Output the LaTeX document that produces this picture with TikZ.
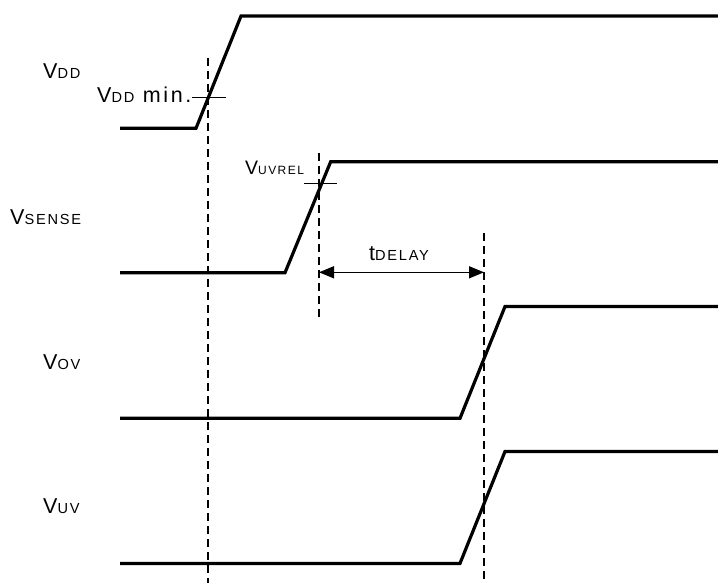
\documentclass[tikz,border=0pt]{standalone}
\usepackage{fontspec}
\setmainfont{Liberation Sans}[LetterSpace=12]
\usetikzlibrary{arrows.meta}
\newcommand{\mainsz}{\fontsize{21.5}{21.5}\selectfont}
\newcommand{\subsz}[1]{{\fontsize{14.6}{14.6}\selectfont #1}}
\tikzset{
  wave/.style={line width=3.2pt, line join=miter},
  guide/.style={line width=1.7pt, dash pattern=on 8pt off 5pt},
  tick/.style={line width=1.2pt},
  lbl/.style={inner sep=0pt, anchor=base west, font=\mainsz},
  dim/.style={line width=1.5pt, {Triangle[length=15pt,width=12pt]}-{Triangle[length=15pt,width=12pt]}}
}
\begin{document}
\begin{tikzpicture}[x=1pt,y=-1pt]
\useasboundingbox (0,0) rectangle (718,583);
% waveform coordinates
\coordinate (dd0) at (120,128.3);
\coordinate (dd1) at (196,128.3);
\coordinate (dd2) at (241,16);
\coordinate (dd3) at (718,16);
\coordinate (se0) at (120,272.7);
\coordinate (se1) at (285,272.7);
\coordinate (se2) at (330.7,161.7);
\coordinate (se3) at (718,161.7);
\coordinate (ov0) at (120,418.3);
\coordinate (ov1) at (460,418.3);
\coordinate (ov2) at (505,306.5);
\coordinate (ov3) at (718,306.5);
\coordinate (uv0) at (120,563.4);
\coordinate (uv1) at (460,563.4);
\coordinate (uv2) at (505,451.5);
\coordinate (uv3) at (718,451.5);
% guides
\coordinate (ga0) at (207.7,58);
\coordinate (ga1) at (207.7,583);
\coordinate (gb0) at (319,153);
\coordinate (gb1) at (319,318);
\coordinate (gc0) at (484,233);
\coordinate (gc1) at (484,580);
% ticks
\coordinate (ta0) at (192.3,97.3);
\coordinate (ta1) at (225.7,97.3);
\coordinate (tb0) at (304,183.3);
\coordinate (tb1) at (337.3,183.3);
% dimension
\coordinate (da) at (319,272.3);
\coordinate (db) at (484,272.3);

\draw[wave] (dd0) -- (dd1) -- (dd2) -- (dd3);
\draw[wave] (se0) -- (se1) -- (se2) -- (se3);
\draw[wave] (ov0) -- (ov1) -- (ov2) -- (ov3);
\draw[wave] (uv0) -- (uv1) -- (uv2) -- (uv3);

\draw[guide] (ga0) -- (ga1);
\draw[guide] (gb0) -- (gb1);
\draw[guide] (gc0) -- (gc1);

\draw[tick] (ta0) -- (ta1);
\draw[tick] (tb0) -- (tb1);

\draw[dim] (da) -- (db);

\node[lbl] (lvdd) at (43,78.3) {V\subsz{DD}};
\node[lbl] (lvddmin) at (97,102.7) {V\subsz{DD} min.};
\node[lbl] (lsense) at (10,225) {V\subsz{SENSE}};
\node[lbl, font=\fontsize{19.5}{19.5}\selectfont] (luvrel) at (245,175) {V{\fontsize{12}{12}\selectfont UVREL}};
\node[lbl] (ldelay) at (369,260.7) {t\subsz{DELAY}};
\node[lbl] (lov) at (43,369.3) {V\subsz{OV}};
\node[lbl] (luv) at (43,513.3) {V\subsz{UV}};
\end{tikzpicture}
\end{document}
